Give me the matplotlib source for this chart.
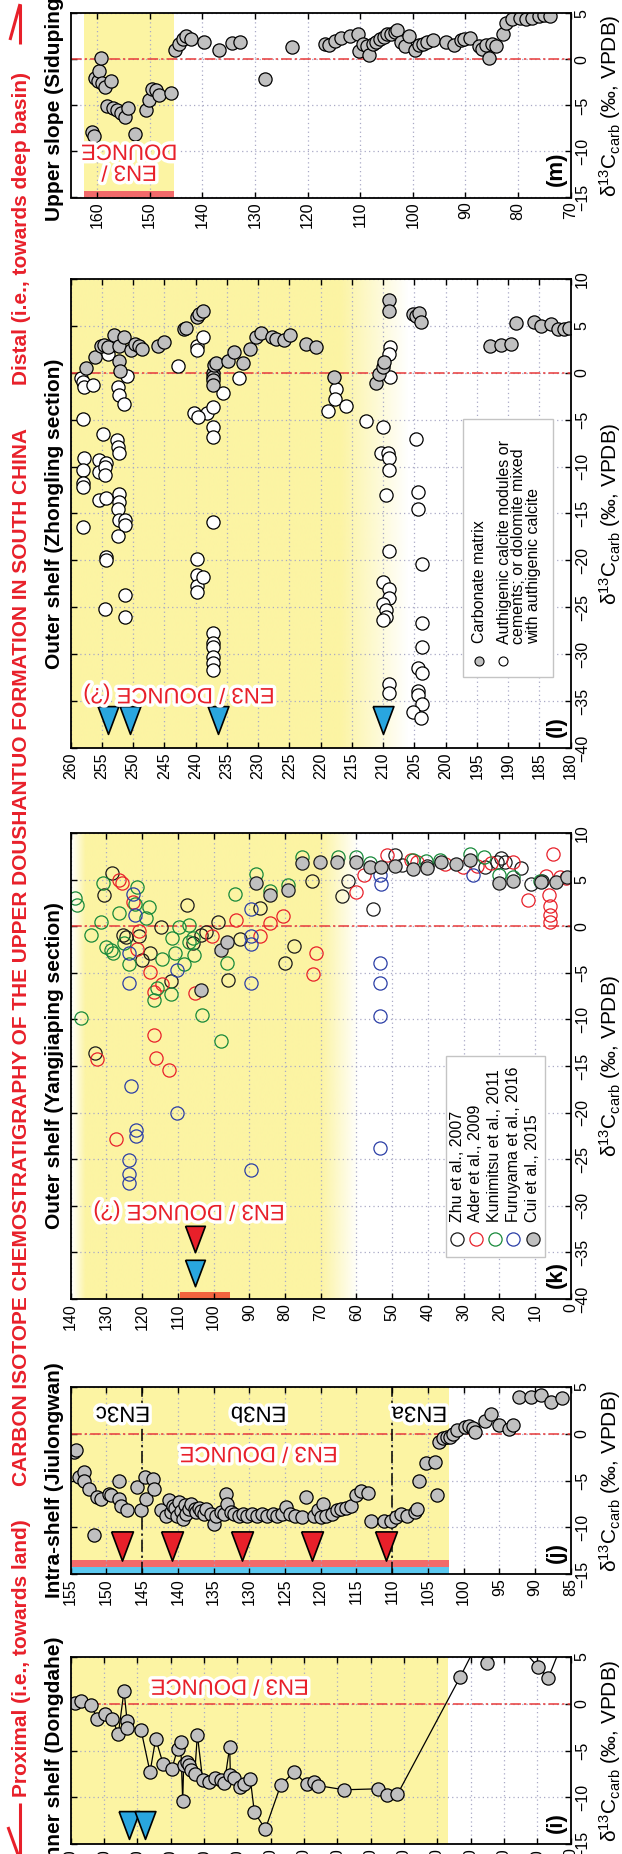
"""
Upper Doushantuo carbon-isotope profiles, proximal (Dongdahe) to distal (Siduping).
Each section is drawn as a strip with height on the horizontal axis and
d13C on the vertical axis; all text is set sideways. Saves out.png.
"""
import numpy as np
import matplotlib
matplotlib.use("Agg")
import matplotlib.pyplot as plt
import matplotlib.patheffects as pe
from matplotlib.lines import Line2D
from matplotlib.patches import Rectangle

plt.rcParams["font.family"] = ["Liberation Sans", "DejaVu Sans"]
plt.rcParams["mathtext.fontset"] = "custom"
plt.rcParams["mathtext.rm"] = "Liberation Sans"
plt.rcParams["mathtext.it"] = "Liberation Sans:italic"
plt.rcParams["mathtext.bf"] = "Liberation Sans:bold"

# ---------------------------------------------------------------------------
# DATA  (height in m, d13C in permil)
# ---------------------------------------------------------------------------
# (m) Siduping
sid_h = [160.9, 160.5, 160.3, 159.9, 159.6, 159.2, 159.0, 158.4, 157.3, 158.1, 156.9, 156.2,
         155.4, 154.7, 154.1, 152.8, 150.7, 150.1, 149.5, 148.8, 148.3, 146.0, 145.2, 144.5,
         143.7, 143.0, 142.1, 139.6, 136.9, 134.3, 132.9, 128.0, 123.0, 116.7, 116.0, 114.8,
         113.6, 112.0, 110.5, 110.2, 109.4, 108.7, 108.3, 107.5, 106.9, 106.2, 105.4, 104.9,
         104.1, 103.4, 103.0, 102.2, 101.5, 100.7, 99.6, 98.8, 98.1, 97.3, 96.2, 93.6,
         92.1, 90.9, 90.2, 89.2, 87.5, 86.8, 86.0, 85.5, 84.9, 84.1, 82.8, 82.3,
         81.1, 79.6, 78.5, 77.4, 76.0, 75.1, 74.0]
sid_d = [-7.9, -8.3, -2.0, -2.4, -1.3, 0.1, -2.6, -3.0, -2.3, -5.1, -5.3, -5.5,
         -5.8, -6.3, -5.3, -8.1, -5.5, -4.4, -3.2, -3.3, -3.9, -3.6, 1.0, 1.7,
         2.2, 2.5, 2.2, 1.9, 1.0, 1.8, 1.9, -2.1, 1.3, 1.7, 1.6, 2.0,
         2.3, 2.5, 2.8, 0.9, 1.7, 1.4, 0.5, 1.7, 1.9, 2.2, 2.4, 2.8,
         2.8, 3.0, 3.2, 1.9, 1.5, 2.5, 1.0, 1.6, 1.7, 1.9, 2.1, 1.9,
         1.6, 2.1, 2.2, 2.3, 1.4, 1.1, 1.6, 0.1, 1.7, 1.4, 2.8, 4.0,
         4.4, 4.5, 4.4, 4.5, 4.7, 4.8, 4.7]
sid_en3 = (162.4, 145.3)

# (l) Zhongling - carbonate matrix
zl_matrix_h = [257.6, 256.1, 255.2, 254.7, 254.1, 253.0, 252.2, 252.2, 252.1, 251.5, 250.3, 249.7,
               249.1, 248.6, 246.0, 245.1, 241.9, 241.6, 239.8, 239.5, 238.9, 237.3, 237.2, 237.2,
               237.2, 237.0, 236.7, 234.8, 233.8, 232.4, 231.3, 230.3, 229.5, 227.8, 227.1, 225.8,
               224.9, 222.3, 220.8, 217.9, 211.2, 210.6, 210.1, 209.8, 209.0, 209.0, 205.2, 204.7,
               204.2, 203.9, 192.9, 191.1, 189.6, 188.8, 185.8, 184.8, 183.2, 182.0, 181.0, 180.3]
zl_matrix_d = [0.5, 1.7, 2.9, 3.0, 2.8, 4.0, 2.9, 1.3, 0.2, 3.8, 2.4, 3.1,
               2.9, 2.5, 2.9, 3.3, 4.7, 4.8, 5.9, 6.3, 6.6, 0.0, -0.5, -0.8,
               -1.3, 0.8, 1.0, 1.3, 2.2, 1.0, 2.5, 3.8, 4.2, 3.8, 3.6, 3.5,
               4.0, 3.1, 2.7, -0.5, -1.1, -0.1, 0.6, 1.1, 7.8, 6.6, 6.3, 6.1,
               6.4, 5.4, 2.9, 3.0, 3.1, 5.3, 5.4, 5.0, 5.2, 4.7, 4.7, 4.8]
# (l) Zhongling - authigenic calcite / dolomite mixed with authigenic calcite
zl_auth_h = [258.3, 258.0, 257.8, 256.4, 258.1, 254.9, 252.4, 252.2, 251.5, 251.0, 254.1, 239.8,
             239.8, 238.9, 242.9, 238.2, 240.2, 239.6, 237.3, 237.3, 237.2, 235.7, 233.0, 218.9,
             217.6, 217.7, 215.9, 212.8, 210.0, 208.9, 209.0, 208.9, 204.7, 252.6, 252.4, 252.2,
             257.8, 255.4, 254.3, 210.4, 209.3, 209.0, 258.0, 258.0, 258.0, 255.4, 254.5, 254.5,
             255.4, 254.3, 252.2, 252.2, 252.4, 252.2, 251.3, 251.3, 252.4, 258.0, 254.3, 254.3,
             251.3, 254.5, 251.3, 237.2, 239.8, 239.8, 239.8, 239.8, 238.9, 237.2, 237.2, 237.2,
             237.2, 237.2, 237.2, 209.0, 209.6, 209.0, 210.0, 209.0, 209.0, 210.0, 209.6, 209.6,
             210.0, 209.0, 209.0, 204.5, 204.5, 203.8, 203.8, 203.8, 204.5, 203.8, 204.5, 204.5,
             203.8, 205.2, 204.0]
zl_auth_d = [-0.6, -1.0, -1.5, -1.3, -4.9, -6.5, -1.5, -2.4, -3.3, -0.3, 2.0, 2.9,
             2.4, 3.8, 0.7, -4.3, -4.3, -4.7, -3.6, -5.8, -6.8, -2.2, -0.6, -4.1,
             -1.7, -2.8, -3.5, -5.1, -5.8, 2.7, 2.0, -0.5, -7.1, -7.2, -7.9, -8.6,
             -9.1, -9.3, -9.6, -8.6, -8.6, -9.1, -10.4, -11.8, -12.2, -10.6, -10.0, -10.9,
             -13.6, -13.3, -12.9, -13.8, -14.5, -15.7, -15.7, -16.2, -17.4, -16.4, -19.6, -20.0,
             -23.7, -25.2, -26.0, -15.9, -19.9, -21.6, -22.7, -23.4, -21.8, -27.7, -28.8, -29.2,
             -30.3, -30.9, -31.7, -10.4, -13.0, -19.0, -22.3, -23.0, -24.0, -24.7, -25.3, -26.0,
             -26.4, -33.2, -34.1, -12.7, -14.5, -20.4, -26.7, -29.2, -31.5, -32.0, -33.9, -34.4,
             -35.3, -36.2, -36.8]
zl_tri_h = [254.0, 250.5, 236.5, 210.0]

# (k) Yangjiaping, five data sets
yj_zhu_h = [128.4, 130.7, 125.3, 124.4, 120.9, 120.0, 117.7, 114.7, 112.0, 107.5, 105.8, 103.6,
            102.2, 98.8, 96.0, 92.7, 86.9, 79.9, 77.4, 72.4, 63.9, 62.4, 55.4, 49.1,
            47.2, 40.2, 24.0, 20.7, 19.6, 18.5, 14.0, 11.2, 7.9, 133.3]
yj_zhu_d = [5.7, 3.4, -0.9, -1.2, -1.1, -3.6, -2.9, -0.1, -5.9, 2.3, -1.8, -0.9,
            -0.6, 0.5, -5.8, -1.4, 2.0, -3.9, -2.1, 4.9, 3.2, 4.8, 1.8, 7.6,
            6.6, 6.5, 6.4, 6.9, 7.3, 6.9, 6.2, 4.5, 4.8, -13.6]
yj_ader_h = [126.6, 125.5, 122.5, 120.9, 121.4, 117.7, 114.4, 116.6, 105.1, 100.3, 93.6, 86.9,
             84.1, 80.6, 71.3, 72.1, 60.2, 58.0, 51.3, 44.6, 42.9, 35.2, 30.1, 26.3,
             22.4, 16.2, 12.0, 6.0, 5.7, 5.7, 5.7, 4.9, 6.8, 2.9, 1.2, 116.6,
             116.2, 112.5, 127.3, 132.5]
yj_ader_d = [5.0, 4.6, 2.6, -0.5, -2.5, -4.9, -6.2, -7.1, -7.2, -1.1, 0.7, -1.1,
             0.3, 1.1, -2.9, -5.1, 3.7, 5.5, 7.6, 7.1, 6.9, 6.7, 6.4, 6.5,
             6.8, 6.9, 2.8, 3.3, 2.2, 1.2, 0.4, 7.7, 5.4, 5.3, 5.2, -11.7,
             -14.1, -15.4, -22.8, -14.3]
yj_kuni_h = [138.9, 138.1, 137.0, 134.2, 131.4, 130.9, 130.0, 128.6, 128.1, 126.4, 125.1, 123.6,
             121.4, 122.0, 118.9, 118.1, 116.6, 115.8, 114.4, 112.0, 111.7, 110.8, 109.7, 108.4,
             106.9, 106.9, 105.8, 105.5, 103.3, 96.1, 94.1, 88.0, 84.1, 79.1, 75.2, 65.2,
             60.2, 56.3, 44.1, 40.5, 36.5, 28.3, 24.2, 20.1, 16.2, 8.7, 98.0]
yj_kuni_d = [3.0, 2.3, -9.8, -0.9, 0.4, 4.6, -2.2, -2.6, -2.9, 1.4, -1.8, -4.1,
             4.2, 2.4, 0.9, 2.1, -7.9, -6.6, -3.5, -7.3, -1.3, -2.9, -0.1, -4.1,
             0.1, -1.7, -1.3, -3.1, -9.5, -3.9, 3.5, 5.6, 3.8, 4.4, 7.4, 7.4,
             7.4, 6.8, 7.1, 7.0, 7.1, 7.8, 7.4, 5.5, 5.3, 4.9, -12.3]
yj_furu_h = [122.5, 122.0, 123.6, 123.6, 110.3, 89.5, 89.5, 89.5, 89.5, 53.5, 53.2, 53.5,
             53.5, 53.5, 27.4, 123.1, 110.1, 121.7, 121.7, 123.6, 123.6, 123.6, 89.5, 53.5]
yj_furu_d = [3.5, 1.2, -2.9, -6.1, -4.7, 1.8, -1.1, -1.9, -6.1, 5.5, 4.5, -4.0,
             -6.1, -9.6, 5.5, -17.1, -20.0, -21.9, -22.5, -25.1, -26.6, -27.6, -26.2, -23.8]
yj_cui_h = [103.6, 98.0, 96.1, 88.0, 84.1, 79.1, 75.2, 70.2, 65.4, 60.2, 56.3, 53.0,
            49.1, 44.1, 40.2, 36.3, 32.0, 28.3, 20.1, 16.2, 8.4, 4.2, 0.9]
yj_cui_d = [-6.8, -2.6, -1.7, 4.6, 3.4, 3.9, 6.8, 6.9, 6.9, 6.9, 6.4, 6.3,
            6.5, 6.1, 6.2, 6.9, 6.7, 7.1, 4.6, 4.9, 4.75, 4.75, 5.3]
yj_refs = ["Zhu et al., 2007", "Ader et al., 2009", "Kunimitsu et al., 2011",
           "Furuyama et al., 2016", "Cui et al., 2015"]
yj_en3 = (109.5, 95.3)
yj_tri_h = 105.1

# (j) Jiulongwan
jl_h = [154.6, 154.2, 153.8, 153.2, 153.1, 152.4, 151.8, 151.3, 150.7, 149.6, 149.3, 148.2,
        148.2, 147.9, 147.1, 145.7, 145.2, 144.6, 144.4, 143.5, 143.3, 142.4, 141.6, 141.3,
        141.0, 140.7, 140.4, 140.1, 139.9, 139.6, 139.3, 139.0, 138.8, 138.5, 138.2, 137.6,
        137.4, 137.1, 136.8, 136.3, 136.0, 135.4, 134.9, 134.6, 134.0, 133.5, 133.2, 133.1,
        132.6, 132.1, 131.5, 130.9, 130.3, 129.6, 128.9, 128.2, 127.5, 126.7, 126.1, 125.4,
        124.8, 124.3, 123.6, 122.6, 122.1, 121.0, 120.4, 119.9, 119.7, 119.2, 118.4, 117.7,
        117.1, 116.4, 115.7, 115.1, 114.3, 113.4, 112.9, 111.2, 110.1, 109.5, 108.7, 107.9,
        106.8, 106.5, 106.2, 105.3, 104.0, 103.7, 103.4, 102.9, 102.3, 101.9, 101.5, 100.9,
        99.8, 99.3, 98.7, 98.4, 97.0, 96.2, 95.1, 93.7, 93.1, 92.3, 90.6, 89.2,
        87.8, 86.2]
jl_d = [-1.9, -1.7, -4.6, -4.1, -5.0, -5.9, -10.8, -6.8, -7.0, -6.4, -6.6, -7.0,
        -5.0, -7.7, -8.2, -5.7, -8.2, -4.6, -7.0, -4.8, -5.9, -8.2, -8.8, -7.1,
        -8.4, -7.7, -7.9, -8.8, -7.3, -8.3, -9.1, -7.6, -8.6, -8.0, -7.5, -8.0,
        -8.4, -7.9, -8.3, -8.6, -8.0, -8.6, -9.6, -8.8, -8.4, -8.6, -6.4, -7.5,
        -8.4, -8.6, -8.8, -8.6, -8.8, -8.6, -8.8, -8.6, -8.8, -8.6, -8.8, -8.6,
        -7.8, -8.6, -8.8, -8.9, -6.8, -8.8, -8.2, -8.9, -7.5, -8.8, -8.6, -8.2,
        -8.0, -7.9, -7.7, -6.6, -6.1, -6.3, -9.3, -9.3, -9.3, -8.9, -8.6, -8.8,
        -8.4, -8.0, -5.0, -3.1, -3.0, -6.6, -0.9, -0.5, -0.4, -0.3, 0.0, 0.4,
        0.7, 0.8, 0.6, 0.2, 1.4, 2.1, 0.9, 0.5, 0.9, 3.9, 3.9, 4.1,
        3.4, 3.8]
jl_en3 = (155.0, 102.0)
jl_tri_h = [147.8, 140.8, 131.0, 121.2, 110.8]
jl_sub_bounds = [145.0, 110.0]
jl_sub_names = ["EN3c", "EN3b", "EN3a"]
jl_sub_pos = [147.7, 128.7, 106.2]

# (i) Dongdahe
dd_h = [148.8, 146.8, 144.0, 142.0, 139.6, 137.6, 135.7, 134.0, 133.1, 133.0, 128.9, 126.2,
        124.5, 122.3, 119.7, 117.9, 117.0, 116.4, 116.1, 115.2, 114.6, 114.0, 112.8, 112.0,
        110.4, 108.6, 106.8, 105.0, 103.9, 102.3, 102.1, 100.9, 99.1, 97.9, 96.1, 94.9,
        91.6, 87.0, 83.0, 79.2, 77.0, 75.8, 68.0, 57.9, 55.0, 52.0, 33.1, 28.7,
        25.0, 17.4, 9.7, 6.7, 3.1]
dd_d = [0.1, 0.25, -0.1, -1.6, -1.1, -1.6, -3.2, 1.4, -1.8, -2.6, -2.8, -7.3,
        -3.75, -6.4, -7.0, -4.8, -4.1, -10.4, -6.5, -6.25, -6.6, -7.1, -7.5, -3.3,
        -8.2, -8.4, -7.9, -8.2, -8.5, -4.6, -7.6, -7.9, -8.9, -8.6, -8.1, -11.6,
        -13.4, -8.7, -7.3, -8.6, -8.4, -8.75, -9.2, -9.1, -9.8, -9.7, 2.9, 6.0,
        4.4, 7.0, 3.9, 2.75, 6.0]
dd_en3 = (150.0, 36.7)
dd_tri_h = [132.5, 127.8]

# ---------------------------------------------------------------------------
# STYLE
# ---------------------------------------------------------------------------
W, H = 622, 1854
AX_L, AX_R = 70.7, 570.7
YELLOW = "#fcf4a3"
RED = "#e8202a"
ZERO_RED = "#e83a3a"
GRID = "#a9a9c6"
GREY_FILL = "#c0c0c0"
BAR_RED = "#f26a6a"
BAR_BLUE = "#5bc8f0"
TRI_BLUE = "#29a6df"
REF_COLORS = ["#1a1a1a", "#e8202a", "#17893a", "#2b3ea6", "#1a1a1a"]
NARROW = ["Liberation Sans Narrow", "Liberation Sans"]
TRI = [(-0.75, 1.0), (0.75, 1.0), (0.0, -1.0), (-0.75, 1.0)]
D13C = r"δ$^{13}$C$_{\mathrm{carb}}$ (‰, VPDB)"
MS = 9.5


def fx(px):
    return px / W


def fy(py):
    return 1 - py / H


def make_axes(fig, top, bottom, xlim, ylim, xticks, yticks, title, letter):
    ax = fig.add_axes([fx(AX_L), fy(bottom), (AX_R - AX_L) / W, (bottom - top) / H])
    ax.set_xlim(*xlim)
    ax.set_ylim(*ylim)
    ax.set_xticks(xticks)
    ax.set_yticks(yticks)
    ax.yaxis.tick_right()
    ax.tick_params(direction="in", length=4, width=1, top=True, bottom=True, left=True,
                   right=True, labelleft=False, labelright=True, labelsize=11.5, pad=3,
                   labelrotation=90)
    for lab in ax.get_yticklabels():
        lab.set_va("center")
    ax.grid(True, color=GRID, linestyle=(0, (1, 2.5)), linewidth=0.9)
    ax.set_axisbelow(True)
    for s in ax.spines.values():
        s.set_linewidth(1.3)
        s.set_zorder(8)
    ax.axhline(0, color=ZERO_RED, lw=1.1, ls=(0, (7, 2, 1.5, 2)), zorder=1.5)

    mid = (top + bottom) / 2
    fig.text(fx(55), fy(mid), title, rotation=90, ha="center", va="center",
             fontsize=15, fontweight="bold")
    fig.text(fx(610), fy(mid), D13C, rotation=90, ha="center", va="center", fontsize=15)
    ax.annotate(f"({letter})", xy=(0.971, 0), xycoords="axes fraction", xytext=(0, 8),
                textcoords="offset points", rotation=90, ha="center", va="bottom",
                fontsize=16, fontweight="bold", zorder=9)
    return ax


def shade(ax, stops, ylim):
    """Yellow band whose opacity follows (height, alpha) stops."""
    hs = np.linspace(stops[0][0], stops[-1][0], 400)
    alpha = np.interp(hs, [s[0] for s in stops], [s[1] for s in stops])
    rgba = np.zeros((1, hs.size, 4))
    rgba[..., :3] = matplotlib.colors.to_rgb(YELLOW)
    rgba[..., 3] = alpha
    ax.imshow(rgba, extent=(hs[0], hs[-1], ylim[0], ylim[1]), aspect="auto",
              interpolation="bilinear", zorder=0.1)


def red_label(ax, x, y, s, color=RED, size=16):
    ax.text(x, y, s, rotation=180, ha="center", va="center", color=color, fontsize=size,
            family=NARROW, linespacing=1.0, zorder=7,
            path_effects=[pe.withStroke(linewidth=5, foreground="white")])


def triangles(ax, hs, d, color, ms=20):
    ax.plot(hs, [d] * len(hs), ls="none", marker=TRI, ms=ms, mfc=color, mec="black",
            mew=1.2, zorder=6)


def bar(ax, span, y0, y1, color):
    ax.add_patch(Rectangle((min(span), y0), abs(span[0] - span[1]), y1 - y0,
                           facecolor=color, edgecolor="none", zorder=0.3))


def dots(ax, hs, ds, fill, edge="black", **kw):
    ax.plot(hs, ds, ls="none", marker="o", ms=MS, mfc=fill, mec=edge, mew=0.9,
            zorder=4, **kw)


# ---------------------------------------------------------------------------
# PANELS
# ---------------------------------------------------------------------------
def panel_m(fig):
    ax = make_axes(fig, 13.3, 197.5, (165, 70), (-15, 5), range(160, 69, -10),
                   range(-15, 6, 5), "Upper slope (Siduping)", "m")
    ax.axvspan(*sid_en3, color=YELLOW, lw=0, zorder=0.1)
    bar(ax, sid_en3, -15, -14.3, BAR_RED)
    dots(ax, sid_h, sid_d, GREY_FILL)
    red_label(ax, 153.9, -11.0, "EN3 /\nDOUNCE")


def panel_l(fig):
    ax = make_axes(fig, 279, 748, (260, 180), (-40, 10), range(260, 179, -5),
                   range(-40, 11, 5), "Outer shelf (Zhongling section)", "l")
    shade(ax, [(206, 0.0), (217, 1.0), (260, 1.0)], (-40, 10))
    ax.set_xlim(260, 180)
    ax.set_ylim(-40, 10)
    dots(ax, zl_auth_h, zl_auth_d, "white")
    dots(ax, zl_matrix_h, zl_matrix_d, GREY_FILL)
    triangles(ax, zl_tri_h, -37.0, TRI_BLUE)
    red_label(ax, 242.7, -34.2, "EN3 / DOUNCE (?)")

    # legend box
    ax.add_patch(Rectangle((0.784, 0.151), 0.180, 0.550, transform=ax.transAxes,
                           facecolor="white", edgecolor="#c4c4c4", lw=1, zorder=8))
    ax.plot([0.817], [0.186], "o", transform=ax.transAxes, ms=6.5, mfc=GREY_FILL,
            mec="black", mew=0.8, zorder=9, clip_on=False)
    ax.plot([0.865], [0.186], "o", transform=ax.transAxes, ms=6.5, mfc="white",
            mec="black", mew=0.8, zorder=9, clip_on=False)
    ax.text(0.817, 0.224, "Carbonate matrix", transform=ax.transAxes, rotation=90,
            ha="center", va="bottom", fontsize=11.5, zorder=9)
    ax.text(0.896, 0.222, "Authigenic calcite nodules or\ncements; or dolomite mixed\n"
            "with authigenic calcite", transform=ax.transAxes, rotation=90, ha="center",
            va="bottom", multialignment="left", linespacing=0.95, fontsize=11.5, zorder=9)


def panel_k(fig):
    ax = make_axes(fig, 833, 1299, (140, 0), (-40, 10), range(140, -1, -10),
                   range(-40, 11, 5), "Outer shelf (Yangjiaping section)", "k")
    shade(ax, [(59.5, 0.0), (70.0, 1.0), (136.0, 1.0), (140.0, 0.0)], (-40, 10))
    ax.set_xlim(140, 0)
    ax.set_ylim(-40, 10)
    bar(ax, yj_en3, -40, -39.2, "#f2643f")
    series = [(yj_zhu_h, yj_zhu_d), (yj_ader_h, yj_ader_d), (yj_kuni_h, yj_kuni_d),
              (yj_furu_h, yj_furu_d), (yj_cui_h, yj_cui_d)]
    for i, (hs, ds) in enumerate(series):
        fill = GREY_FILL if i == 4 else "none"
        dots(ax, hs, ds, fill, edge=REF_COLORS[i])
    triangles(ax, [yj_tri_h], -33.6, RED, ms=19)
    triangles(ax, [yj_tri_h], -37.2, TRI_BLUE, ms=19)
    red_label(ax, 106.9, -30.5, "EN3 / DOUNCE (?)")

    ax.add_patch(Rectangle((0.751, 0.090), 0.198, 0.431, transform=ax.transAxes,
                           facecolor="white", edgecolor="#c4c4c4", lw=1, zorder=8))
    xs = [0.773, 0.810, 0.848, 0.885, 0.924]
    for i, (x, ref) in enumerate(zip(xs, yj_refs)):
        fill = GREY_FILL if i == 4 else "white"
        ax.plot([x], [0.129], "o", transform=ax.transAxes, ms=MS, mfc=fill,
                mec=REF_COLORS[i], mew=0.9, zorder=9, clip_on=False)
        ax.text(x, 0.165, ref, transform=ax.transAxes, rotation=90, ha="center",
                va="bottom", fontsize=11.5, zorder=9)


def panel_j(fig):
    ax = make_axes(fig, 1387, 1574, (155, 85), (-15, 5), range(155, 84, -5),
                   range(-15, 6, 5), "Intra-shelf (Jiulongwan)", "j")
    ax.axvspan(*jl_en3, color=YELLOW, lw=0, zorder=0.1)
    bar(ax, jl_en3, -15, -14.3, BAR_BLUE)
    bar(ax, jl_en3, -14.3, -13.45, BAR_RED)
    for b in jl_sub_bounds:
        ax.axvline(b, color="black", lw=1.1, ls=(0, (8, 2.5, 1.5, 2.5)), zorder=1.6)
    dots(ax, jl_h, jl_d, GREY_FILL)
    triangles(ax, jl_tri_h, -12.0, RED, ms=21)
    for name, x in zip(jl_sub_names, jl_sub_pos):
        red_label(ax, x, 2.3, name, color="black")
    red_label(ax, 128.7, -2.0, "EN3 / DOUNCE")


def panel_i(fig):
    ax = make_axes(fig, 1657, 1844, (150, 0), (-15, 5), range(150, -1, -10),
                   range(-15, 6, 5), "Inner shelf (Dongdahe)", "i")
    ax.axvspan(*dd_en3, color=YELLOW, lw=0, zorder=0.1)
    ax.plot(dd_h, dd_d, color="black", lw=0.9, zorder=3)
    dots(ax, dd_h, dd_d, GREY_FILL)
    triangles(ax, dd_tri_h, -13.0, TRI_BLUE, ms=20)
    red_label(ax, 102.3, 2.0, "EN3 / DOUNCE")


def side_notes(fig):
    kw = dict(rotation=90, ha="center", va="bottom", color=RED, fontsize=15,
              fontweight="bold")
    fig.text(fx(22), fy(1797), "Proximal (i.e., towards land)", **kw)
    fig.text(fx(22), fy(1486), "CARBON ISOTOPE CHEMOSTRATIGRAPHY OF THE UPPER "
             "DOUSHANTUO FORMATION IN SOUTH CHINA", **kw)
    fig.text(fx(22), fy(385), "Distal (i.e., towards deep basin)", **kw)

    def seg(p0, p1):
        fig.add_artist(Line2D([fx(p0[0]), fx(p1[0])], [fy(p0[1]), fy(p1[1])],
                              color=RED, lw=2.2, solid_capstyle="butt"))
    seg((20, 44), (20, 4))
    seg((20, 4), (10, 40))
    seg((20, 1803), (20, 1860))
    seg((20, 1860), (8, 1827))


def main():
    fig = plt.figure(figsize=(W / 100, H / 100), dpi=100)
    panel_m(fig)
    panel_l(fig)
    panel_k(fig)
    panel_j(fig)
    panel_i(fig)
    side_notes(fig)
    fig.savefig("out.png", dpi=100)


if __name__ == "__main__":
    main()
